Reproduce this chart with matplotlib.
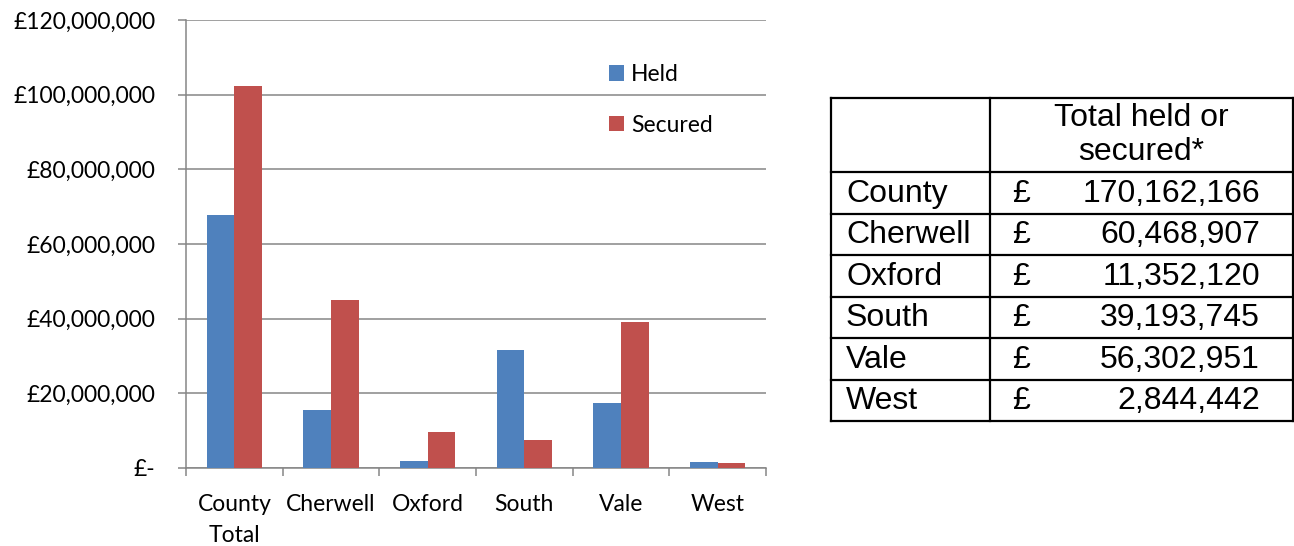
import matplotlib.pyplot as plt
import matplotlib.ticker as mticker
import numpy as np

# chart data
categories = ['County\nTotal', 'Cherwell', 'Oxford', 'South', 'Vale', 'West']
held = [67.8e6, 15.6e6, 1.8e6, 31.7e6, 17.3e6, 1.5e6]
secured = [102.3e6, 44.9e6, 9.6e6, 7.5e6, 39.0e6, 1.3e6]

# table data
table_names = ['County', 'Cherwell', 'Oxford', 'South', 'Vale', 'West']
table_totals = [170162166, 60468907, 11352120, 39193745, 56302951, 2844442]
table_header = 'Total held or\nsecured*'

W, H = 1294, 546
fig = plt.figure(figsize=(W / 100, H / 100), dpi=100)

grey = '#868686'
chart_font = 'Lato'
fs = 16.5

# ---- bar chart ----
ax = fig.add_axes([186 / W, (H - 468) / H, 580 / W, 448 / H])
x = np.arange(len(categories))
bw = 0.285
ax.bar(x - bw / 2, held, bw, color='#4F81BD', label='Held', zorder=3)
ax.bar(x + bw / 2, secured, bw, color='#C0504D', label='Secured', zorder=3)

ax.set_xlim(-0.5, len(categories) - 0.5)
ax.set_ylim(0, 120e6)
ax.set_yticks(np.arange(0, 120e6 + 1, 20e6))
ax.yaxis.set_major_formatter(mticker.FuncFormatter(
    lambda v, p: '£-' if v == 0 else '£{:,.0f}'.format(v)))
ax.grid(axis='y', color=grey, linewidth=1.1, zorder=0)

# tick marks at category boundaries, labels at centres
ax.set_xticks(np.arange(-0.5, len(categories), 1.0))
ax.set_xticklabels([])
ax.set_xticks(x, minor=True)
ax.set_xticklabels(categories, minor=True, fontsize=fs, family=chart_font,
                   linespacing=1.55, va='top')
ax.tick_params(axis='x', which='minor', length=0, pad=19)
ax.tick_params(axis='x', which='major', length=6, color=grey, width=1.1)
ax.tick_params(axis='y', length=6, color=grey, width=1.1, pad=16,
               labelsize=fs)
for lab in ax.get_yticklabels():
    lab.set_family(chart_font)

for side in ['top', 'right']:
    ax.spines[side].set_visible(False)
for side in ['left', 'bottom']:
    ax.spines[side].set_color(grey)
    ax.spines[side].set_linewidth(1.1)

ax.legend(loc='upper left', bbox_to_anchor=(609 / W, (H - 64) / H),
          bbox_transform=fig.transFigure, frameon=False,
          prop={'family': chart_font, 'size': fs},
          handlelength=0.65, handleheight=0.65, handletextpad=0.3,
          labelspacing=1.3, borderaxespad=0, borderpad=0)

# ---- table ----
tx0, ty0, tw, th = 831, 98, 462, 323
tab = fig.add_axes([tx0 / W, (H - ty0 - th) / H, tw / W, th / H])
tab.set_xlim(0, tw)
tab.set_ylim(th, 0)
tab.axis('off')

col_split = 990 - tx0
row_lines = [0, 74] + [74 + 41.5 * (i + 1) for i in range(len(table_names))]
lw = 1.6
for yl in row_lines:
    tab.plot([0, tw], [yl, yl], color='black', linewidth=lw, clip_on=False,
             solid_capstyle='projecting')
for xl in [0, col_split, tw]:
    tab.plot([xl, xl], [0, th], color='black', linewidth=lw, clip_on=False,
             solid_capstyle='projecting')

tfont = {'family': 'Liberation Sans', 'size': 23}
tab.text((col_split + tw) / 2, 37, table_header, ha='center', va='center',
         linespacing=1.2, **tfont)
for i, (name, val) in enumerate(zip(table_names, table_totals)):
    yc = (row_lines[i + 1] + row_lines[i + 2]) / 2 + 1
    tab.text(15, yc, name, ha='left', va='center', **tfont)
    tab.text(1012 - tx0, yc, '£', ha='left', va='center', **tfont)
    tab.text(1260 - tx0, yc, '{:,}'.format(val), ha='right', va='center',
             **tfont)

plt.savefig('out.png', dpi=100)
